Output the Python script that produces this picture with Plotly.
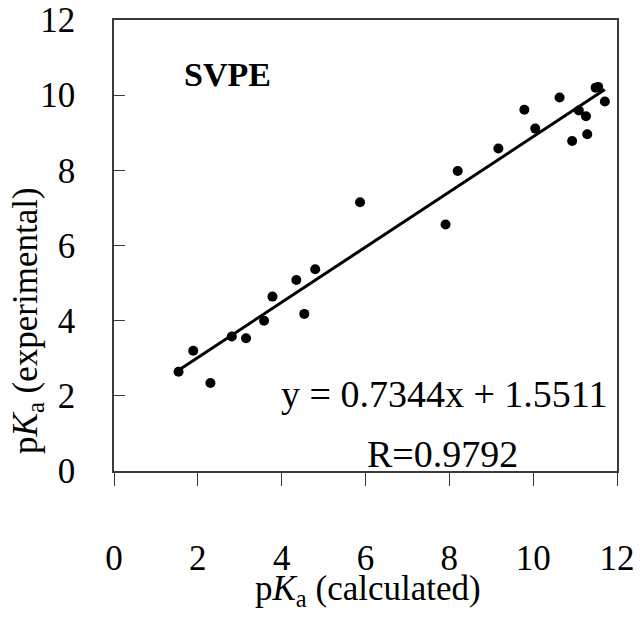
import plotly.graph_objects as go

# Data
pka_calculated = [1.54, 1.89, 2.30, 2.81, 3.15, 3.58, 3.78, 4.35, 4.54, 4.80,
                  5.87, 7.91, 8.20, 9.17, 9.79, 10.05, 10.63, 10.93, 11.09,
                  11.26, 11.29, 11.49, 11.55, 11.71]
pka_experimental = [2.64, 3.20, 2.34, 3.58, 3.53, 4.00, 4.64, 5.08, 4.18, 5.37,
                    7.15, 6.56, 7.98, 8.58, 9.61, 9.11, 9.94, 8.78, 9.59,
                    9.44, 8.96, 10.20, 10.22, 9.83]
slope = 0.7344
intercept = 1.5511
r_value = 0.9792
tick_values = [0, 2, 4, 6, 8, 10, 12]
tick_labels = ["0", "2", "4", "6", "8", "10", "12"]

FONT = "Liberation Serif"
AX = "#3a3a3a"

fit_x = [min(pka_calculated), max(pka_calculated)]
fit_y = [slope * v + intercept for v in fit_x]

fig = go.Figure()
fig.add_trace(go.Scatter(x=fit_x, y=fit_y, mode="lines",
                         line=dict(color="black", width=3), showlegend=False))
fig.add_trace(go.Scatter(x=pka_calculated, y=pka_experimental, mode="markers",
                         marker=dict(color="black", size=10), showlegend=False))

fig.update_layout(
    width=644, height=618,
    margin=dict(l=114, r=27, t=20, b=147, autoexpand=False),
    paper_bgcolor="white", plot_bgcolor="white",
    font=dict(family=FONT, size=35, color="black"),
    xaxis=dict(range=[0, 12], tickvals=tick_values, ticktext=tick_labels,
               showgrid=False, zeroline=False, showline=True, linecolor=AX,
               linewidth=1.5, mirror=True, ticks="outside", ticklen=13,
               tickcolor=AX, tickwidth=1, ticklabelstandoff=42, automargin=False,
               tickfont=dict(family=FONT, size=35, color="black")),
    yaxis=dict(range=[0, 12], tickvals=tick_values, ticktext=tick_labels,
               showgrid=False, zeroline=False, showline=True, linecolor=AX,
               linewidth=1.5, mirror=True, ticks="inside", ticklen=11,
               tickcolor=AX, tickwidth=1, ticklabelstandoff=30, automargin=False,
               tickfont=dict(family=FONT, size=35, color="black")),
)

fig.add_annotation(text="<b>SVPE</b>", xref="paper", yref="paper", x=0.2247, y=0.880,
                   showarrow=False, font=dict(family=FONT, size=34, color="black"),
                   xanchor="center", yanchor="middle")
fig.add_annotation(text=f"y = {slope:.4f}x + {intercept:.4f}", xref="paper", yref="paper",
                   x=0.656, y=0.171, showarrow=False,
                   font=dict(family=FONT, size=38, color="black"),
                   xanchor="center", yanchor="middle")
fig.add_annotation(text=f"R={r_value:.4f}", xref="paper", yref="paper",
                   x=0.654, y=0.0377, showarrow=False,
                   font=dict(family=FONT, size=38, color="black"),
                   xanchor="center", yanchor="middle")
fig.add_annotation(text="p<i>K</i><sub>a</sub> (calculated)", xref="paper", yref="paper",
                   x=0.505, y=-0.264, showarrow=False,
                   font=dict(family=FONT, size=35, color="black"),
                   xanchor="center", yanchor="middle")
fig.add_annotation(text="p<i>K</i><sub>a</sub> (experimental)", xref="paper", yref="paper",
                   x=-0.171, y=0.335, showarrow=False, textangle=-90,
                   font=dict(family=FONT, size=35, color="black"),
                   xanchor="center", yanchor="middle")

fig.write_html("out.html", config={"displayModeBar": False},
               post_script="document.body.style.margin='0';document.body.style.overflow='hidden';")
